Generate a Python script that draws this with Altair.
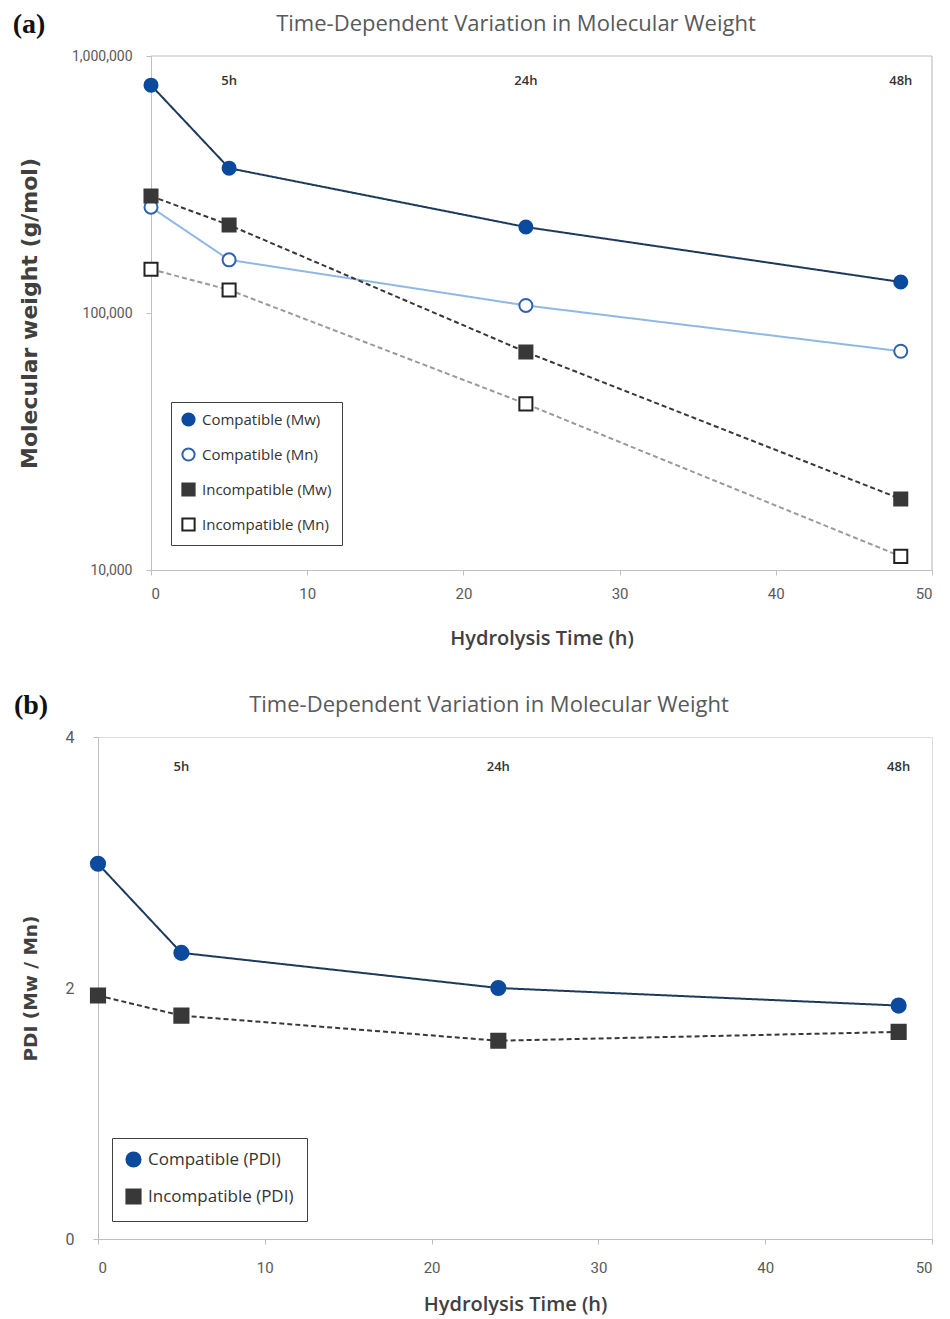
import altair as alt
import pandas as pd

# ---------------- data ----------------
time_h = [0, 5, 24, 48]
series_a = ["Compatible (Mw)", "Compatible (Mn)", "Incompatible (Mw)", "Incompatible (Mn)"]
compatible_mw = [770000, 366000, 216000, 132000]
compatible_mn = [258000, 161000, 107000, 71000]
incompatible_mw = [285000, 220000, 70500, 18900]
incompatible_mn = [148000, 123000, 44300, 11300]

series_b = ["Compatible (PDI)", "Incompatible (PDI)"]
compatible_pdi = [2.99, 2.28, 2.00, 1.86]
incompatible_pdi = [1.94, 1.78, 1.58, 1.65]

note_time = [5, 24, 48]
note_text = ["5h", "24h", "48h"]
note_y_a = [800000, 800000, 800000]
note_y_b = [3.76, 3.76, 3.76]

x_ticks = [0, 10, 20, 30, 40, 50]
x_domain = [0, 50]
y_ticks_a = [10000, 100000, 1000000]
y_domain_a = [10000, 1000000]
y_ticks_b = [0, 2, 4]
y_domain_b = [0, 4]

chart_title = "Time-Dependent Variation in Molecular Weight"

# ---------------- tables ----------------
rows_a = []
for name, vals in zip(series_a, [compatible_mw, compatible_mn, incompatible_mw, incompatible_mn]):
    for t, v in zip(time_h, vals):
        rows_a.append({"time": t, "value": v, "series": name, "line": name + " line"})
df_a = pd.DataFrame(rows_a)

rows_b = []
for name, vals in zip(series_b, [compatible_pdi, incompatible_pdi]):
    for t, v in zip(time_h, vals):
        rows_b.append({"time": t, "value": v, "series": name, "line": name + " line"})
df_b = pd.DataFrame(rows_b)

lines_dom_a = [s + " line" for s in series_a]
lines_dom_b = [s + " line" for s in series_b]

notes_a = pd.DataFrame({"time": note_time, "value": note_y_a, "label": note_text})
notes_b = pd.DataFrame({"time": note_time, "value": note_y_b, "label": note_text})

# frame lines of panel (a) (top and right edges), in data units
frame_top_a = pd.DataFrame({"time": [x_domain[0]], "time2": [x_domain[1]], "value": [y_domain_a[1]]})
frame_right_a = pd.DataFrame({"time": [x_domain[1]], "value": [y_domain_a[0]], "value2": [y_domain_a[1]]})

# ---------------- styles ----------------
NAVY_MARK = "#0c4a9e"
NAVY_LINE = "#1d3a5c"
LIGHT_LINE = "#8fb8e4"
MN_STROKE = "#2f63b0"
DARK = "#383838"
GRAY_DASH = "#9a9a9a"
AXIS_GRAY = "#bfbfbf"
LABEL_GRAY = "#595959"
TITLE_DARK = "#404040"

PANEL_W = 834      # bottom plot width; both panels share the same left origin
SHIFT_A = 53       # the top plot starts this many px to the right of the bottom one


def x_axis(label_pad, title_pad):
    return alt.Axis(values=x_ticks, title="Hydrolysis Time (h)", grid=False,
                    domainColor=AXIS_GRAY, tickColor=AXIS_GRAY, tickSize=5,
                    labelFont="Roboto", labelFontSize=15, labelColor=LABEL_GRAY,
                    labelPadding=label_pad, titleFont="Open Sans", titleFontSize=20,
                    titleFontWeight=600, titleColor=TITLE_DARK, titlePadding=title_pad)


# ---------------- panel (a) ----------------
xa = alt.X("time:Q", scale=alt.Scale(domain=x_domain, nice=False, range=[SHIFT_A, PANEL_W]),
           axis=x_axis(11, 27))
ya = alt.Y("value:Q", scale=alt.Scale(type="log", domain=y_domain_a, nice=False),
           axis=alt.Axis(values=y_ticks_a, format=",", title="Molecular weight (g/mol)", grid=False,
                         offset=-SHIFT_A,
                         domainColor=AXIS_GRAY, tickColor=AXIS_GRAY, tickSize=5,
                         labelFont="Roboto", labelFontSize=14, labelColor=LABEL_GRAY, labelPadding=14,
                         titleFont="DejaVu Sans", titleFontSize=22, titleFontWeight="bold",
                         titleColor=TITLE_DARK, titlePadding=30))

legend_a = alt.Legend(title=None, orient="none", legendX=73, legendY=346,
                      strokeColor="#404040", fillColor="white", padding=10,
                      labelFont="Open Sans", labelFontSize=15, labelColor="#333333",
                      symbolSize=150, symbolStrokeWidth=2, rowPadding=14, labelOffset=6)

frame_a1 = alt.Chart(frame_top_a).mark_rule(color=AXIS_GRAY, strokeWidth=1.2).encode(
    x=xa, x2="time2:Q", y=ya)
frame_a2 = alt.Chart(frame_right_a).mark_rule(color=AXIS_GRAY, strokeWidth=1.2).encode(
    x=xa, y=ya, y2="value2:Q")

lines_a = alt.Chart(df_a).mark_line(strokeWidth=2).encode(
    x=xa, y=ya,
    color=alt.Color("line:N", scale=alt.Scale(domain=lines_dom_a,
                    range=[NAVY_LINE, LIGHT_LINE, DARK, GRAY_DASH]), legend=None),
    strokeDash=alt.StrokeDash("line:N", scale=alt.Scale(domain=lines_dom_a,
                              range=[[1, 0], [1, 0], [5, 3], [5, 3]]), legend=None),
)

points_a = alt.Chart(df_a).mark_point(size=170, strokeWidth=2, opacity=1, filled=True, fillOpacity=1).encode(
    x=xa, y=ya,
    shape=alt.Shape("series:N", scale=alt.Scale(domain=series_a,
                    range=["circle", "circle", "square", "square"]), legend=legend_a),
    fill=alt.Fill("series:N", scale=alt.Scale(domain=series_a,
                  range=[NAVY_MARK, "#ffffff", DARK, "#ffffff"]), legend=legend_a),
    stroke=alt.Stroke("series:N", scale=alt.Scale(domain=series_a,
                      range=[NAVY_MARK, MN_STROKE, DARK, "#222222"]), legend=legend_a),
)

notes_layer_a = alt.Chart(notes_a).mark_text(font="Open Sans", fontSize=13, fontWeight=600,
                                             color="#333333").encode(x=xa, y=ya, text="label:N")

title_a = alt.Chart(pd.DataFrame({"t": [chart_title]})).mark_text(
    font="Open Sans", fontSize=22, color=LABEL_GRAY, baseline="middle", align="center"
).encode(text="t:N", x=alt.value(418), y=alt.value(-32))

tag_a = alt.Chart(pd.DataFrame({"t": ["(a)"]})).mark_text(
    font="Liberation Serif", fontSize=28, fontWeight="bold", color="#111111",
    baseline="middle", align="center"
).encode(text="t:N", x=alt.value(-69), y=alt.value(-31))

panel_a = alt.layer(frame_a1, frame_a2, lines_a, points_a, notes_layer_a, title_a, tag_a).properties(
    width=PANEL_W, height=514, view=alt.ViewBackground(stroke=None))

# ---------------- panel (b) ----------------
xb = alt.X("time:Q", scale=alt.Scale(domain=x_domain, nice=False), axis=x_axis(16, 19))
yb = alt.Y("value:Q", scale=alt.Scale(domain=y_domain_b, nice=False),
           axis=alt.Axis(values=y_ticks_b, title="PDI (Mw / Mn)", grid=False,
                         domainColor=AXIS_GRAY, tickColor=AXIS_GRAY, tickSize=5,
                         labelFont="Roboto", labelFontSize=16, labelColor=LABEL_GRAY, labelPadding=19,
                         titleFont="DejaVu Sans", titleFontSize=18.5, titleFontWeight="bold",
                         titleColor=TITLE_DARK, titlePadding=25))

legend_b = alt.Legend(title=None, orient="none", legendX=14, legendY=401,
                      strokeColor="#404040", fillColor="white", padding=13,
                      labelFont="Open Sans", labelFontSize=17, labelColor="#333333",
                      symbolSize=200, symbolStrokeWidth=2, rowPadding=14, labelOffset=6)

lines_b = alt.Chart(df_b).mark_line(strokeWidth=2).encode(
    x=xb, y=yb,
    color=alt.Color("line:N", scale=alt.Scale(domain=lines_dom_b, range=[NAVY_LINE, DARK]), legend=None),
    strokeDash=alt.StrokeDash("line:N", scale=alt.Scale(domain=lines_dom_b,
                              range=[[1, 0], [5, 3]]), legend=None),
)

points_b = alt.Chart(df_b).mark_point(size=200, strokeWidth=2, opacity=1, filled=True, fillOpacity=1).encode(
    x=xb, y=yb,
    shape=alt.Shape("series:N", scale=alt.Scale(domain=series_b, range=["circle", "square"]), legend=legend_b),
    fill=alt.Fill("series:N", scale=alt.Scale(domain=series_b, range=[NAVY_MARK, DARK]), legend=legend_b),
    stroke=alt.Stroke("series:N", scale=alt.Scale(domain=series_b, range=[NAVY_MARK, DARK]), legend=legend_b),
)

notes_layer_b = alt.Chart(notes_b).mark_text(font="Open Sans", fontSize=13, fontWeight=600,
                                             color="#333333").encode(x=xb, y=yb, text="label:N")

title_b = alt.Chart(pd.DataFrame({"t": [chart_title]})).mark_text(
    font="Open Sans", fontSize=22, color=LABEL_GRAY, baseline="middle", align="center"
).encode(text="t:N", x=alt.value(391), y=alt.value(-32))

tag_b = alt.Chart(pd.DataFrame({"t": ["(b)"]})).mark_text(
    font="Liberation Serif", fontSize=28, fontWeight="bold", color="#111111",
    baseline="middle", align="center"
).encode(text="t:N", x=alt.value(-67), y=alt.value(-31))

panel_b = alt.layer(lines_b, points_b, notes_layer_b, title_b, tag_b).properties(width=PANEL_W, height=502)

chart = alt.vconcat(panel_a, panel_b, spacing=43).properties(
    padding={"left": 4, "top": 3, "right": 0, "bottom": 0}
).resolve_scale(
    x="independent", y="independent", color="independent", fill="independent",
    stroke="independent", shape="independent", strokeDash="independent"
).configure_view(stroke=AXIS_GRAY, strokeWidth=1.2).configure(background="white")

chart.save("out.html", embed_options={"renderer": "svg", "actions": False})
